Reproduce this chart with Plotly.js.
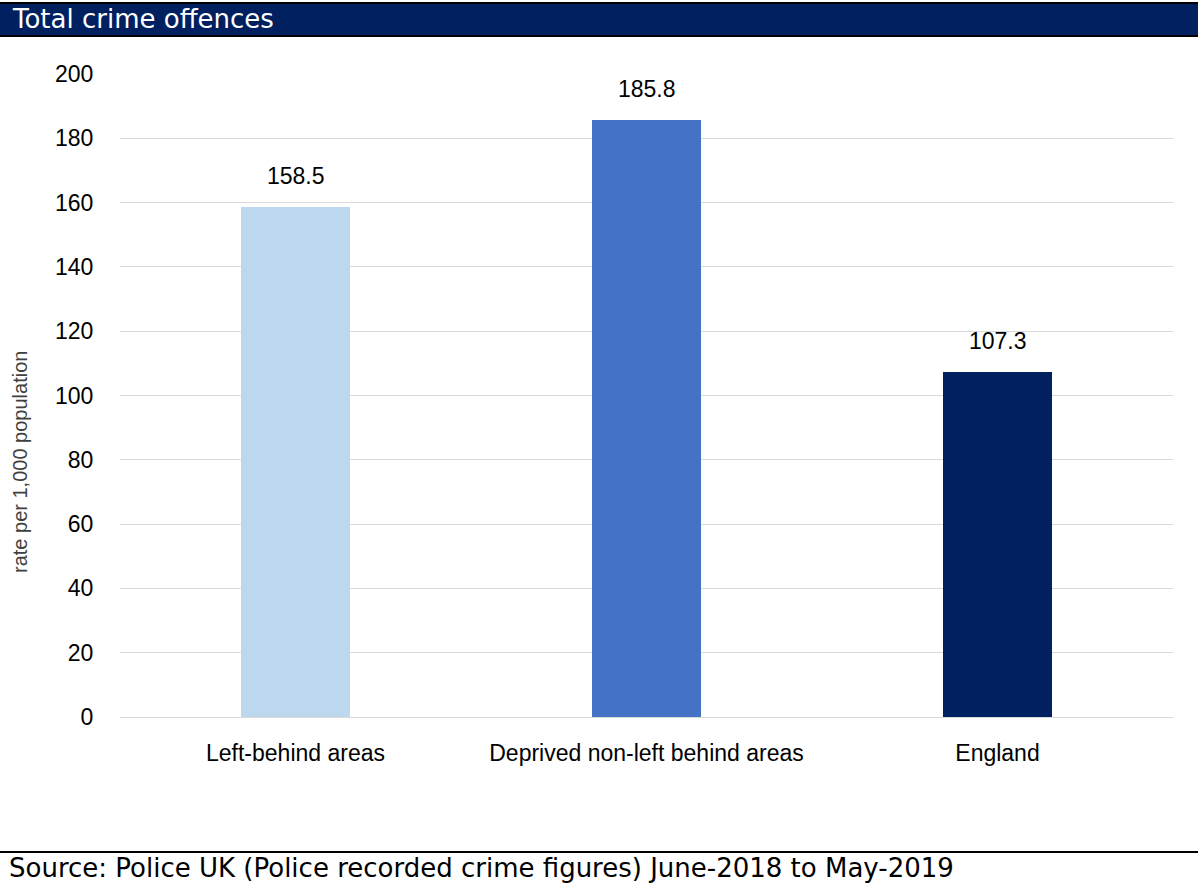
<!DOCTYPE html>
<html>
<head>
<meta charset="utf-8">
<script src="https://cdn.plot.ly/plotly-3.0.1.min.js"></script>
<style>html,body{margin:0;padding:0;background:#fff;}#chart{width:1198px;height:883px;}</style>
</head>
<body>
<div id="chart"></div>
<script>
const categories = ["Left-behind areas", "Deprived non-left behind areas", "England"];
const values = [158.5, 185.8, 107.3];
const barColors = ["#BDD7EE", "#4472C4", "#002060"];
const yTicks = [0, 20, 40, 60, 80, 100, 120, 140, 160, 180, 200];
const chartTitle = "Total crime offences";
const sourceText = "Source: Police UK (Police recorded crime figures) June-2018 to May-2019";
const yTitle = "rate per 1,000 population";

const W = 1198, H = 883;
const M = {l: 120, r: 25, t: 74, b: 166};
const plotH = H - M.t - M.b, plotW = W - M.l - M.r;
const py = p => (H - M.b - p) / plotH;
const px = p => (p - M.l) / plotW;
const ARIAL = "Liberation Sans, Arial, sans-serif";
const GOTHIC = "DejaVu Sans, sans-serif";

const trace = {
  type: "bar",
  x: categories,
  y: values,
  marker: {color: barColors},
  width: 0.313,
  hoverinfo: "x+y"
};

const annotations = categories.map((c, i) => ({
  x: c, y: values[i], xref: "x", yref: "y",
  text: values[i].toFixed(1), showarrow: false,
  yanchor: "bottom", yshift: 16,
  font: {family: ARIAL, size: 23, color: "#000"}
}));
annotations.push({
  x: px(10), y: py(19), xref: "paper", yref: "paper",
  xanchor: "left", yanchor: "middle", showarrow: false,
  text: chartTitle,
  font: {family: GOTHIC, size: 26, color: "#ffffff"}
});
annotations.push({
  x: px(7), y: py(868), xref: "paper", yref: "paper",
  xanchor: "left", yanchor: "middle", showarrow: false,
  text: sourceText,
  font: {family: GOTHIC, size: 26, color: "#000"}
});
annotations.push({
  x: px(20), y: py(462), xref: "paper", yref: "paper",
  xanchor: "center", yanchor: "middle", showarrow: false,
  textangle: -90,
  text: yTitle,
  font: {family: ARIAL, size: 20, color: "#404040"}
});

const shapes = [
  {type: "rect", xref: "paper", yref: "paper", x0: px(0), x1: px(W), y0: py(37), y1: py(2),
   fillcolor: "#000000", line: {width: 0}, layer: "above"},
  {type: "rect", xref: "paper", yref: "paper", x0: px(0), x1: px(W), y0: py(35), y1: py(4),
   fillcolor: "#002060", line: {width: 0}, layer: "above"},
  {type: "line", xref: "paper", yref: "paper", x0: px(0), x1: px(W), y0: py(852), y1: py(852),
   line: {color: "#000", width: 2}}
];

const layout = {
  width: W, height: H,
  margin: M,
  paper_bgcolor: "#fff", plot_bgcolor: "#fff",
  showlegend: false,
  bargap: 0,
  xaxis: {
    range: [-0.5, 2.5],
    showgrid: false, showline: false, zeroline: false,
    ticks: "outside", ticklen: 15, tickcolor: "rgba(0,0,0,0)",
    tickfont: {family: ARIAL, size: 23, color: "#000"},
    fixedrange: true
  },
  yaxis: {
    range: [0, 200],
    tickvals: yTicks,
    showgrid: true, gridcolor: "#d9d9d9", gridwidth: 1,
    zeroline: true, zerolinecolor: "#d9d9d9", zerolinewidth: 1,
    showline: false,
    ticks: "outside", ticklen: 21, tickcolor: "rgba(0,0,0,0)",
    tickfont: {family: ARIAL, size: 23, color: "#000"},
    fixedrange: true
  },
  annotations: annotations,
  shapes: shapes
};

Plotly.newPlot("chart", [trace], layout, {displayModeBar: false});
</script>
</body>
</html>
